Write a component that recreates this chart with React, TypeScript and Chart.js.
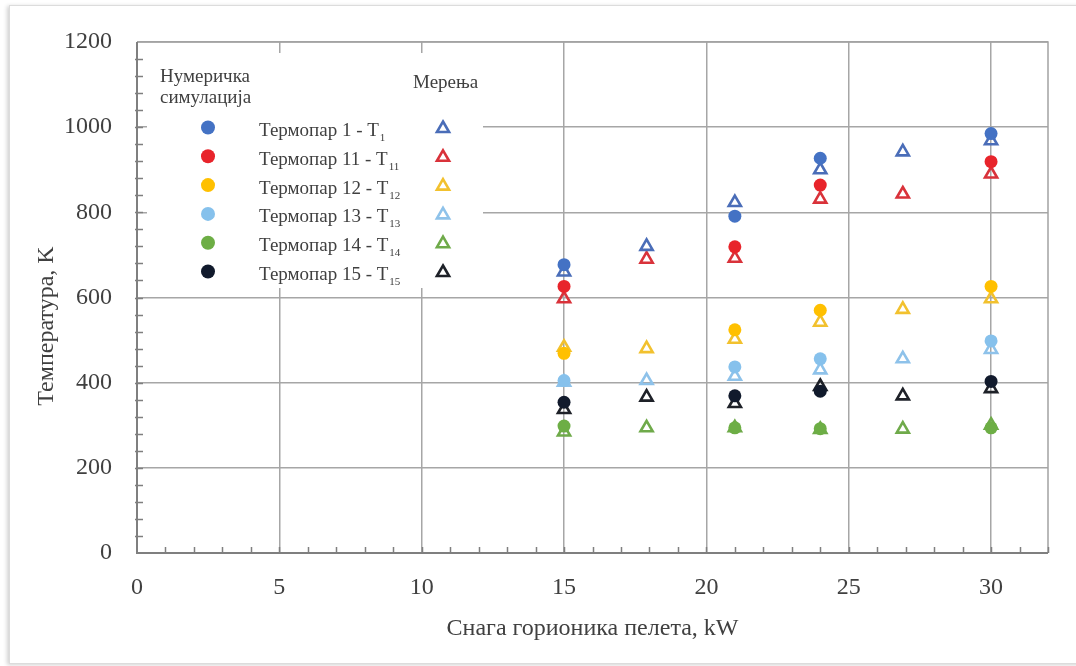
import React, { useEffect, useRef } from "react";
import { Chart, registerables } from "chart.js";

Chart.register(...registerables);

// ---- data ----
const simX = [15, 21, 24, 30];
const measX = [15, 17.9, 21, 24, 26.9, 30];

const simT1 = [677, 791, 927, 985];
const simT11 = [626, 719, 864, 919];
const simT12 = [469, 524, 570, 626];
const simT13 = [405, 437, 456, 498];
const simT14 = [298, 294, 292, 294];
const simT15 = [354, 369, 380, 403];

const measT1 = [660, 720, 823, 900, 942, 968];
const measT11 = [597, 690, 692, 831, 843, 890];
const measT12 = [483, 480, 502, 542, 572, 597];
const measT13 = [401, 405, 415, 430, 456, 478];
const measT14 = [284, 294, 294, 290, 291, 300];
const measT15 = [337, 366, 351, 391, 369, 386];

const seriesLabels = ["Термопар 1 - T", "Термопар 11 - T", "Термопар 12 - T", "Термопар 13 - T", "Термопар 14 - T", "Термопар 15 - T"];
const seriesSubs = ["1", "11", "12", "13", "14", "15"];
const simColors = ["#4472C4", "#E8242B", "#FFC000", "#86C1EC", "#6DAE45", "#111A2C"];
const measColors = ["#4A6DB8", "#D9323A", "#F2C12E", "#8EC2EA", "#6FAA4A", "#1E2128"];

const xTicks = [0, 5, 10, 15, 20, 25, 30];
const yTicks = [0, 200, 400, 600, 800, 1000, 1200];

const xTitle = "Снага горионика пелета, kW";
const yTitle = "Температура, K";
const simHeader = ["Нумеричка", "симулација"];
const measHeader = "Мерења";

const FONT = "'Liberation Serif', 'Times New Roman', serif";
const TEXT = "#404040";

const simSeries = [simT1, simT11, simT12, simT13, simT14, simT15];
const measSeries = [measT1, measT11, measT12, measT13, measT14, measT15];

function triPath(ctx: CanvasRenderingContext2D, cx: number, cy: number, r: number) {
  let rad = 0;
  ctx.beginPath();
  ctx.moveTo(cx + Math.sin(rad) * r, cy - Math.cos(rad) * r);
  rad += (2 * Math.PI) / 3;
  ctx.lineTo(cx + Math.sin(rad) * r, cy - Math.cos(rad) * r);
  rad += (2 * Math.PI) / 3;
  ctx.lineTo(cx + Math.sin(rad) * r, cy - Math.cos(rad) * r);
  ctx.closePath();
}

const decor = {
  id: "decor",
  beforeDatasetsDraw(chart: any) {
    const { ctx, chartArea: a, scales } = chart;
    const xs = scales.x;
    const ys = scales.y;
    ctx.save();
    // legend white box
    const bx = a.left + 10;
    const by = a.top + 11;
    ctx.fillStyle = "#ffffff";
    ctx.fillRect(bx, by, 336, 235);

    // top & right frame
    ctx.strokeStyle = "#A3A3A3";
    ctx.lineWidth = 1.5;
    ctx.beginPath();
    ctx.moveTo(a.left, a.top);
    ctx.lineTo(a.right, a.top);
    ctx.lineTo(a.right, a.bottom);
    ctx.stroke();

    // left & bottom axes
    ctx.strokeStyle = "#7F7F7F";
    ctx.lineWidth = 2;
    ctx.beginPath();
    ctx.moveTo(a.left, a.top);
    ctx.lineTo(a.left, a.bottom);
    ctx.lineTo(a.right, a.bottom);
    ctx.stroke();

    // minor ticks
    ctx.lineWidth = 1.5;
    ctx.beginPath();
    for (let v = 1; v <= 32; v++) {
      const px = Math.round(xs.getPixelForValue(v)) + 0.5;
      ctx.moveTo(px, a.bottom);
      ctx.lineTo(px, a.bottom - 6);
    }
    for (let v = 40; v < 1200; v += 40) {
      const py = Math.round(ys.getPixelForValue(v)) + 0.5;
      ctx.moveTo(a.left - 2, py);
      ctx.lineTo(a.left + 6, py);
    }
    ctx.stroke();

    // legend contents
    ctx.fillStyle = TEXT;
    ctx.textAlign = "left";
    ctx.textBaseline = "alphabetic";
    ctx.font = `19px ${FONT}`;
    ctx.fillText(simHeader[0], a.left + 23, 82);
    ctx.fillText(simHeader[1], a.left + 23, 103);
    ctx.fillText(measHeader, a.left + 276, 88);

    for (let i = 0; i < seriesLabels.length; i++) {
      const base = 136 + i * 28.8;
      const cy = base - 8.5;
      ctx.fillStyle = simColors[i];
      ctx.beginPath();
      ctx.arc(a.left + 71, cy, 7, 0, Math.PI * 2);
      ctx.fill();

      ctx.fillStyle = TEXT;
      ctx.font = `19px ${FONT}`;
      const lx = a.left + 122;
      ctx.fillText(seriesLabels[i], lx, base);
      const w = ctx.measureText(seriesLabels[i]).width;
      ctx.font = `11px ${FONT}`;
      ctx.fillText(seriesSubs[i], lx + w + 1, base + 5);

      ctx.strokeStyle = measColors[i];
      ctx.lineWidth = 2.6;
      triPath(ctx, a.left + 306, cy + 1, 7);
      ctx.stroke();
    }

    // axis titles
    ctx.fillStyle = TEXT;
    ctx.font = `24px ${FONT}`;
    ctx.textAlign = "center";
    ctx.textBaseline = "alphabetic";
    ctx.fillText(xTitle, (a.left + a.right) / 2, 635);
    ctx.translate(53, 326);
    ctx.rotate(-Math.PI / 2);
    ctx.fillText(yTitle, 0, 0);
    ctx.restore();
  },
};

export default function App() {
  const ref = useRef<HTMLCanvasElement | null>(null);

  useEffect(() => {
    if (!ref.current) return;
    const datasets: any[] = [];
    simSeries.forEach((s, i) => {
      datasets.push({
        label: seriesLabels[i] + seriesSubs[i] + " sim",
        data: simX.map((x, j) => ({ x, y: s[j] })),
        pointStyle: "circle",
        pointRadius: 6.5,
        backgroundColor: simColors[i],
        borderColor: simColors[i],
        borderWidth: 0,
      });
    });
    measSeries.forEach((s, i) => {
      datasets.push({
        label: seriesLabels[i] + seriesSubs[i] + " meas",
        data: measX.map((x, j) => ({ x, y: s[j] })),
        pointStyle: "triangle",
        pointRadius: 7,
        backgroundColor: "rgba(255,255,255,0)",
        borderColor: measColors[i],
        borderWidth: 2.6,
      });
    });

    const chart = new Chart(ref.current, {
      type: "scatter",
      data: { datasets },
      options: {
        animation: false,
        responsive: false,
        devicePixelRatio: 1,
        layout: { padding: { left: 0, top: 42, right: 28, bottom: 0 } },
        plugins: { legend: { display: false }, tooltip: { enabled: false } },
        scales: {
          x: {
            type: "linear",
            min: 0,
            max: 32,
            afterBuildTicks: (s: any) => {
              s.ticks = xTicks.map((v) => ({ value: v }));
            },
            afterFit: (s: any) => {
              s.height = 113;
            },
            grid: { color: "#A6A6A6", lineWidth: 1.5, drawTicks: false },
            border: { display: false },
            ticks: {
              padding: 20,
              maxRotation: 0,
              autoSkip: false,
              color: TEXT,
              font: { family: FONT, size: 24 },
              callback: (v: any) => String(v),
            },
          },
          y: {
            type: "linear",
            min: 0,
            max: 1200,
            afterBuildTicks: (s: any) => {
              s.ticks = yTicks.map((v) => ({ value: v }));
            },
            afterFit: (s: any) => {
              s.width = 137;
            },
            grid: { color: "#A6A6A6", lineWidth: 1.5, drawTicks: false },
            border: { display: false },
            ticks: {
              padding: 25,
              autoSkip: false,
              color: TEXT,
              font: { family: FONT, size: 24 },
              callback: (v: any) => String(v),
            },
          },
        },
      },
      plugins: [decor],
    } as any);
    return () => chart.destroy();
  }, []);

  return (
    <div style={{ position: "fixed", left: 0, top: 0, width: 1076, height: 666, background: "#ffffff", overflow: "hidden" }}>
      <div
        style={{
          position: "absolute",
          left: 9,
          top: 5,
          width: 1100,
          height: 657,
          border: "1px solid #dcdcdc",
          boxShadow: "-2px 1px 4px rgba(0,0,0,0.18)",
          background: "#ffffff",
        }}
      />
      <canvas ref={ref} width={1076} height={666} style={{ position: "absolute", left: 0, top: 0 }} />
    </div>
  );
}
